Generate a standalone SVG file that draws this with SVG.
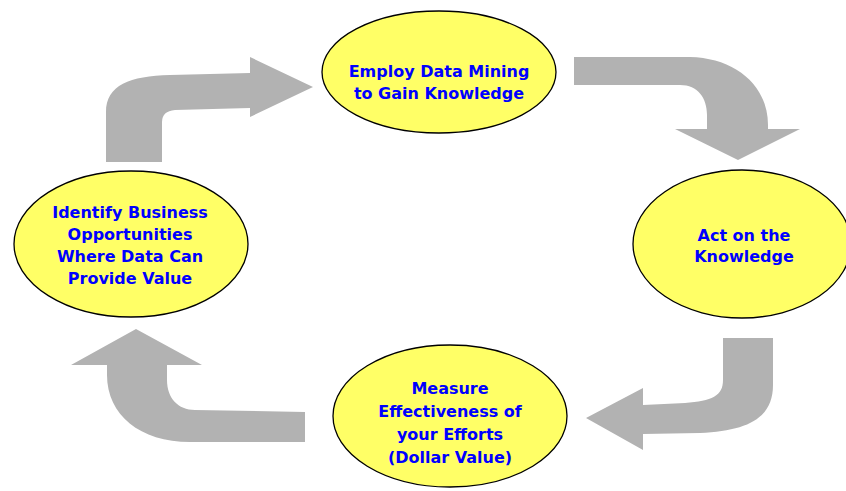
<svg xmlns="http://www.w3.org/2000/svg" width="846" height="491" viewBox="0 0 846 491">
<style>
.node ellipse{fill:#FFFF66;stroke:#000;stroke-width:1.3}
.node text{font-family:"DejaVu Sans",Verdana,sans-serif;font-weight:bold;font-size:16px;fill:#0000FF;text-anchor:middle}
.arrow{fill:#B2B2B2;stroke:none}
</style>
<rect width="846" height="491" fill="#fff"/>
<g id="connectors">
<path class="arrow" d="M106,162 L106,112 C106,85 130,76 170,75 L250,73 L250,57 L313,87 L250,117 L250,108 L175,110 Q162,111 162,122 L162,162 Z"/>
<path class="arrow" d="M574,57 L690,57 C735,58 768,85 768,125 L768,129 L800,129 L738,160 L675,129 L707,129 L707,115 C707,98 698,85 680,85 L574,85 Z"/>
<path class="arrow" d="M723,338 L773,338 L773,385 C773,418 748,431 700,433 L643,434 L643,450 L586,418 L643,388 L643,405 L685,403 C712,401 723,396 723,380 Z"/>
<path class="arrow" d="M305,412 L305,442 L190,442 C140,442 107,415 107,375 L107,365 L71,365 L136,329 L202,365 L167,365 L167,380 C167,398 178,410 195,410 Z"/>
</g>
<g id="node-employ" class="node">
<ellipse cx="439" cy="72" rx="117" ry="61"/>
<text x="439" y="77">Employ Data Mining</text>
<text x="439" y="99">to Gain Knowledge</text>
</g>
<g id="node-act" class="node">
<ellipse cx="742" cy="244" rx="109" ry="74"/>
<text x="744" y="241">Act on the</text>
<text x="744" y="262">Knowledge</text>
</g>
<g id="node-measure" class="node">
<ellipse cx="450" cy="416" rx="117" ry="71"/>
<text x="450" y="394">Measure</text>
<text x="450" y="417">Effectiveness of</text>
<text x="450" y="440">your Efforts</text>
<text x="450" y="463">(Dollar Value)</text>
</g>
<g id="node-identify" class="node">
<ellipse cx="131" cy="244" rx="117" ry="73"/>
<text x="130" y="218">Identify Business</text>
<text x="130" y="240">Opportunities</text>
<text x="130" y="262">Where Data Can</text>
<text x="130" y="284">Provide Value</text>
</g>
</svg>
